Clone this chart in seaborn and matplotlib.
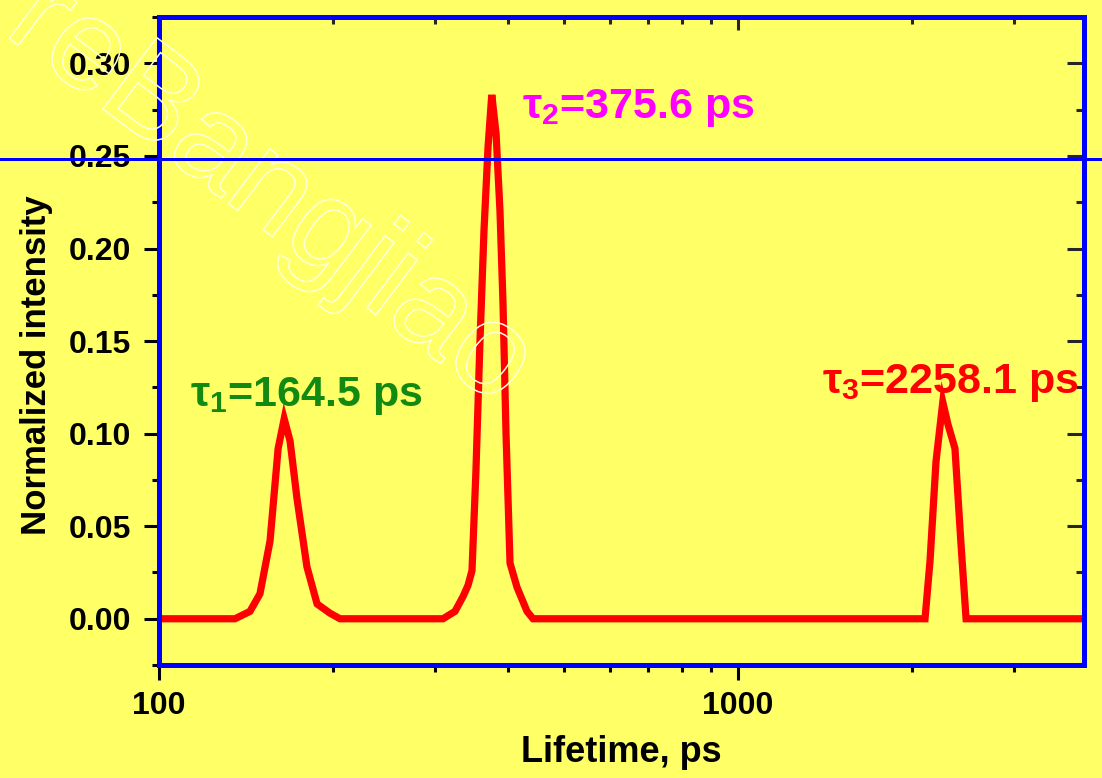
import matplotlib
matplotlib.use("Agg")
import matplotlib.pyplot as plt
import seaborn as sns
import pandas as pd
from matplotlib.ticker import FixedLocator, FixedFormatter, MultipleLocator, NullFormatter, LogLocator
from matplotlib.lines import Line2D
from matplotlib.textpath import TextPath
from matplotlib.patches import PathPatch
from matplotlib.font_manager import FontProperties
from matplotlib.transforms import Affine2D

# Lifetime distribution (ps) and normalized intensity
lifetime = [100, 135.3, 143.6, 149.4, 155.5, 160.6, 164.5, 168.4, 173.1, 180.1, 187.5, 197.4, 205.4,
            309.4, 324.5, 335.0, 341.7, 347.2, 352.7, 358.4, 364.2, 370.1, 375.6, 382.1, 388.1,
            392.8, 397.5, 403.9, 415.3, 432.1, 442.6,
            2104, 2146, 2198, 2258.1, 2305, 2370, 2428, 2477, 3960]
intensity = [0.0, 0.0, 0.004, 0.0135, 0.042, 0.092, 0.108, 0.096, 0.065, 0.028, 0.008, 0.003, 0.0,
             0.0, 0.004, 0.012, 0.018, 0.026, 0.08, 0.15, 0.21, 0.255, 0.283, 0.262, 0.22,
             0.17, 0.10, 0.03, 0.017, 0.004, 0.0,
             0.0, 0.031, 0.085, 0.117, 0.105, 0.092, 0.04, 0.0, 0.0]

# Component lifetimes shown as annotations
tau_names = ["1", "2", "3"]
tau_values = [164.5, 375.6, 2258.1]
tau_colors = ["#128a12", "#ff00ff", "#ff0000"]

xticks = [100, 1000]
xtick_labels = ["100", "1000"]
yticks = [0.00, 0.05, 0.10, 0.15, 0.20, 0.25, 0.30]
ytick_labels = ["0.00", "0.05", "0.10", "0.15", "0.20", "0.25", "0.30"]

bg = "#ffff66"
blue = "#0000ff"

sns.set_style("ticks")
plt.rcParams["font.family"] = ["Liberation Sans", "DejaVu Sans"]
plt.rcParams["font.weight"] = "bold"
plt.rcParams["mathtext.default"] = "regular"
plt.rcParams["text.color"] = "black"
plt.rcParams["axes.labelcolor"] = "black"

df = pd.DataFrame({"Lifetime": lifetime, "Intensity": intensity})

fig = plt.figure(figsize=(11.02, 7.78), dpi=100, facecolor=bg)
ax = fig.add_axes([0.1443, 0.1452, 0.9837 - 0.1443, 0.978 - 0.1452])
ax.set_facecolor(bg)

sns.lineplot(data=df, x="Lifetime", y="Intensity", color="#ff0000", lw=5.2, ax=ax,
             solid_joinstyle="miter")

ax.set_xscale("log")
ax.set_xlim(100, 3960)
ax.set_ylim(-0.025, 0.325)

ax.xaxis.set_major_locator(FixedLocator(xticks))
ax.xaxis.set_major_formatter(FixedFormatter(xtick_labels))
ax.xaxis.set_minor_locator(LogLocator(base=10, subs=range(2, 10)))
ax.xaxis.set_minor_formatter(NullFormatter())
ax.yaxis.set_major_locator(FixedLocator(yticks))
ax.yaxis.set_major_formatter(FixedFormatter(ytick_labels))
ax.yaxis.set_minor_locator(MultipleLocator(0.025))

for side in ["left", "right", "top", "bottom"]:
    ax.spines[side].set_color(blue)
    ax.spines[side].set_linewidth(3.6)
    ax.spines[side].set_zorder(5)

ax.tick_params(axis="both", which="major", direction="out", length=11, width=2.2,
               color="black", labelsize=23, labelcolor="black")
ax.tick_params(axis="both", which="minor", direction="out", length=5, width=2.2, color="black")
ax.tick_params(axis="x", pad=8)
ax.tick_params(axis="y", pad=9)

# inward ticks on the top and right edges
top = ax.secondary_xaxis("top")
top.xaxis.set_major_locator(FixedLocator(xticks))
top.xaxis.set_minor_locator(LogLocator(base=10, subs=range(2, 10)))
top.tick_params(axis="x", which="major", direction="in", length=9, width=2.2, labeltop=False)
top.tick_params(axis="x", which="minor", direction="in", length=5, width=2.2, labeltop=False)
top.xaxis.set_minor_formatter(NullFormatter())
top.spines["top"].set_visible(False)

right = ax.secondary_yaxis("right")
right.yaxis.set_major_locator(FixedLocator(yticks))
right.yaxis.set_minor_locator(MultipleLocator(0.025))
right.tick_params(axis="y", which="major", direction="in", length=12, width=2.2, labelright=False)
right.tick_params(axis="y", which="minor", direction="in", length=6, width=2.2, labelright=False)
right.spines["right"].set_visible(False)

ax.set_xlabel("Lifetime, ps", fontsize=26, fontweight="bold", labelpad=10)
ax.set_ylabel("Normalized intensity", fontsize=25, fontweight="bold")
ax.yaxis.set_label_coords(-0.115, 0.463)

# component labels, placed just beside each peak
label_pos = [(190, 406), (522, 118), (822, 393)]
for name, val, col, (px, py) in zip(tau_names, tau_values, tau_colors, label_pos):
    fig.text(px / 1102, 1 - py / 778, f"τ$_{name}$={val:g} ps", color=col,
             fontsize=31, fontweight="bold", ha="left", va="baseline")

# faint outlined watermark
wm_prop = FontProperties(family="Liberation Sans", weight="normal")
wm_path = TextPath((0, 0), "reBangjiao", size=130, prop=wm_prop)
wm_tr = Affine2D().rotate_deg(-37).translate(2, 745)
fig.add_artist(PathPatch(wm_path, transform=wm_tr, facecolor="none",
                         edgecolor=(1, 1, 0.86), lw=1.1, zorder=10))

# thin horizontal rule across the whole figure
fig.add_artist(Line2D([0, 1], [1 - 158.5 / 778] * 2, transform=fig.transFigure,
                      color=blue, lw=1.0, antialiased=False, zorder=11))

fig.savefig("out.png", dpi=100, facecolor=bg)
